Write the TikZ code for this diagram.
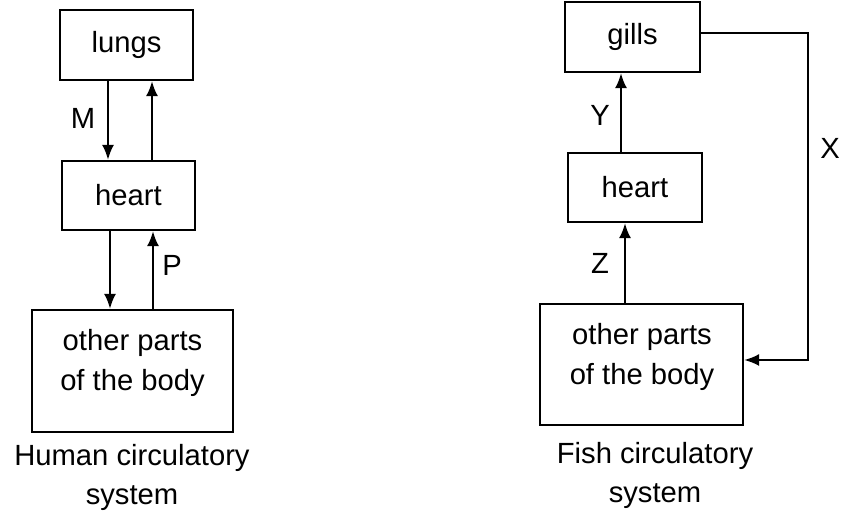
\documentclass[tikz,border=0pt]{standalone}
\usepackage{fontspec}
\setmainfont{Liberation Sans}
\usetikzlibrary{arrows.meta}
\begin{document}
\begin{tikzpicture}[x=0.5pt,y=-0.5pt,
    box/.style={draw,line width=1.1pt,inner sep=0pt},
    every node/.style={font=\fontsize{14.6}{19.5}\selectfont},
    flow/.style={-{Latex[length=7.5pt,width=6pt]},line width=1.1pt}]
        \useasboundingbox (0,0) rectangle (842,512);
        % human
        \node[box,minimum width=66.5pt,minimum height=35pt]  at (126.5,45)   (lungs) {lungs};
        \node[box,minimum width=66.5pt,minimum height=34.5pt] at (128.5,195.5) (hheart) {heart};
        \node[box,minimum width=100.5pt,minimum height=61pt] at (132.5,371)  (hbody) {};
        \node[align=center,font=\fontsize{14.6}{20}\selectfont] at (132.5,363) (hbodytext) {other parts\\of the body};
        \node at (83,118)  (labM) {M};
        \node at (172,265) (labP) {P};
        \node[align=center] at (132,477) (hcap) {Human circulatory\\system};
        \draw[flow] ([xshift=-9.25pt]lungs.south) -- ([xshift=-9.25pt]lungs.south |- hheart.north);
        \draw[flow] ([xshift=12.75pt]lungs.south |- hheart.north) -- ([xshift=12.75pt]lungs.south);
        \draw[flow] ([xshift=-9.25pt]hheart.south) -- ([xshift=-9.25pt]hheart.south |- hbody.north);
        \draw[flow] ([xshift=12.25pt]hheart.south |- hbody.north) -- ([xshift=12.25pt]hheart.south);
        % fish
        \node[box,minimum width=67.5pt,minimum height=35pt]  at (632.5,37)   (gills) {gills};
        \node[box,minimum width=67pt,minimum height=34.5pt]  at (635,187.5)  (fheart) {heart};
        \node[box,minimum width=101.5pt,minimum height=60.5pt] at (641.5,364.5) (fbody) {};
        \node[align=center,font=\fontsize{14.6}{20}\selectfont] at (642,357) (fbodytext) {other parts\\of the body};
        \node at (600,115) (labY) {Y};
        \node at (600,263) (labZ) {Z};
        \node at (830,148) (labX) {X};
        \node[align=center] at (655,475) (fcap) {Fish circulatory\\system};
        \coordinate (xturn) at (808,0);
        \coordinate (xin) at ([yshift=2.25pt]fbody.east);
        \draw[flow] ([xshift=-7pt]fheart.north) -- ([xshift=-7pt]fheart.north |- gills.south);
        \draw[flow] ([xshift=-8.25pt]fbody.north) -- ([xshift=-8.25pt]fbody.north |- fheart.south);
        \draw[flow] ([yshift=2pt]gills.east) -| (xturn |- xin) -- (xin);
      \end{tikzpicture}
\end{document}
